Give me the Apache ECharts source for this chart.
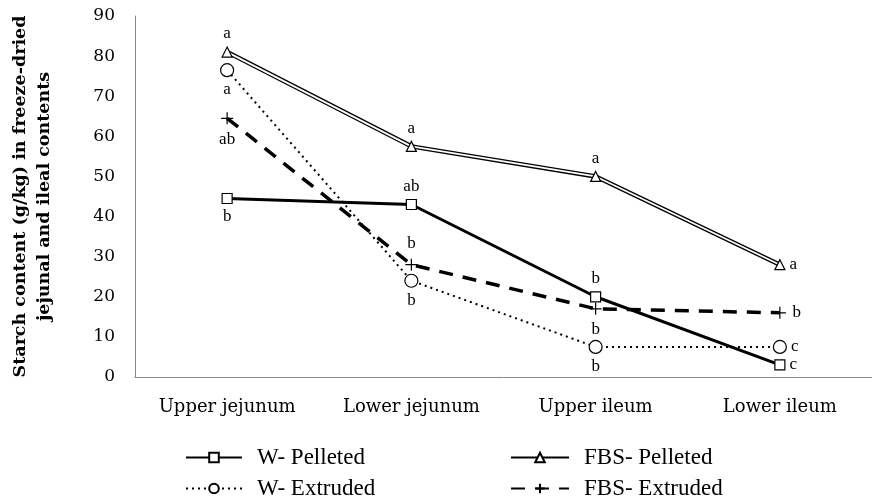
<!DOCTYPE html>
<html>
<head>
<meta charset="utf-8">
<script src="https://cdn.jsdelivr.net/npm/echarts@6/dist/echarts.min.js"></script>
<style>
  html, body { margin: 0; padding: 0; background: #fff; }
  #chart { width: 872px; height: 502px; }
</style>
</head>
<body>
<div id="chart"></div>
<script>
  const categories = ['Upper jejunum', 'Lower jejunum', 'Upper ileum', 'Lower ileum'];
  const wPelleted = [44.5, 43, 20, 3];
  const fbsPelleted = [81, 57.5, 50, 28];
  const wExtruded = [76.5, 24, 7.5, 7.5];
  const fbsExtruded = [64.5, 28, 17, 16];
  // significance letters and where they sit
  const wPelletedLbl = [['b', 'bottom'], ['ab', 'top'], ['b', 'top'], ['c', 'right']];
  const fbsPelletedLbl = [['a', 'top'], ['a', 'top'], ['a', 'top'], ['a', 'right']];
  const wExtrudedLbl = [['a', 'bottom'], ['b', 'bottom'], ['b', 'bottom'], ['c', 'right']];
  const fbsExtrudedLbl = [['ab', 'bottom'], ['b', 'top'], ['b', 'bottom'], ['b', 'right']];

  const serif = 'Liberation Serif';
  const plus = 'path://M5,0V10M0,5H10';

  function withLabels(vals, lbls) {
    return vals.map(function (v, i) {
      return {
        value: v,
        label: { show: true, formatter: lbls[i][0], position: lbls[i][1], distance: 4 }
      };
    });
  }

  const labelStyle = { color: '#000', fontFamily: serif, fontSize: 17 };
  const legendText = { fontFamily: serif, fontSize: 23, color: '#000', lineHeight: 25, padding: [0, 0, 0, 10] };

  const chart = echarts.init(document.getElementById('chart'));
  chart.setOption({
    animation: false,
    textStyle: { fontFamily: serif, color: '#000' },
    grid: { left: 135, right: 0, top: 16, bottom: 125, outerBoundsMode: 'none', containLabel: false },
    xAxis: {
      type: 'category',
      data: categories,
      axisLine: { lineStyle: { color: '#888', width: 1 } },
      axisTick: { show: false },
      axisLabel: { color: '#000', fontSize: 18, fontFamily: 'DejaVu Serif', margin: 21 }
    },
    yAxis: {
      type: 'value',
      min: 0, max: 90, interval: 10,
      splitLine: { show: false },
      axisLine: { show: true, lineStyle: { color: '#888', width: 1 } },
      axisLabel: { color: '#000', fontSize: 17, fontFamily: 'DejaVu Serif', margin: 20 },
      name: 'Starch content (g/kg) in freeze-dried\njejunal and ileal contents',
      nameLocation: 'middle',
      nameGap: 79,
      nameTextStyle: { fontFamily: 'DejaVu Serif', fontWeight: 'bold', fontSize: 17.5, color: '#000', lineHeight: 24 }
    },
    legend: [
      {
        orient: 'vertical', left: 185, top: 445, padding: 0, itemWidth: 56, itemHeight: 12, itemGap: 6,
        textStyle: legendText,
        data: ['W- Pelleted', 'W- Extruded']
      },
      {
        orient: 'vertical', left: 510, top: 445, padding: 0, itemWidth: 58, itemHeight: 12, itemGap: 6,
        textStyle: legendText,
        data: ['FBS- Pelleted', 'FBS- Extruded']
      }
    ],
    series: [
      {
        name: 'FBS- Pelleted', type: 'line', data: withLabels(fbsPelleted, fbsPelletedLbl),
        symbol: 'triangle', symbolSize: 10, z: 3,
        lineStyle: { color: '#000', width: 4.5 },
        itemStyle: { color: '#fff', borderColor: '#000', borderWidth: 1.2 },
        label: labelStyle
      },
      {
        name: 'fbsInner', type: 'line', data: fbsPelleted, symbol: 'none', z: 3,
        lineStyle: { color: '#fff', width: 1.8 }, silent: true
      },
      {
        name: 'W- Pelleted', type: 'line', data: withLabels(wPelleted, wPelletedLbl),
        symbol: 'rect', symbolSize: 10, z: 4,
        lineStyle: { color: '#000', width: 3 },
        itemStyle: { color: '#fff', borderColor: '#000', borderWidth: 1.2 },
        label: labelStyle
      },
      {
        name: 'W- Extruded', type: 'line', data: withLabels(wExtruded, wExtrudedLbl),
        symbol: 'circle', symbolSize: 13, z: 4,
        lineStyle: { color: '#000', width: 2, type: [2, 4] },
        itemStyle: { color: '#fff', borderColor: '#000', borderWidth: 1.2 },
        label: labelStyle
      },
      {
        name: 'FBS- Extruded', type: 'line', data: withLabels(fbsExtruded, fbsExtrudedLbl),
        symbol: plus, symbolSize: 12, z: 4,
        lineStyle: { color: '#000', width: 3.5, type: [14, 10] },
        itemStyle: { color: 'none', borderColor: '#000', borderWidth: 1.2 },
        label: labelStyle
      }
    ]
  });
  window.addEventListener('resize', function () { chart.resize(); });
</script>
</body>
</html>
